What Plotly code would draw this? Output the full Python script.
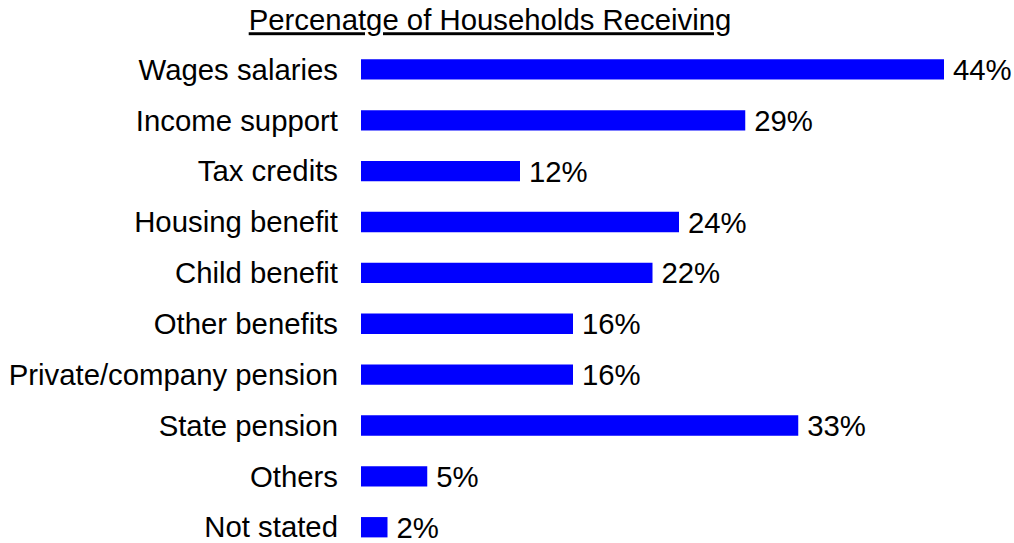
import plotly.graph_objects as go

categories = ["Wages salaries", "Income support", "Tax credits", "Housing benefit",
              "Child benefit", "Other benefits", "Private/company pension",
              "State pension", "Others", "Not stated"]
values = [44, 29, 12, 24, 22, 16, 16, 33, 5, 2]
title_text = "Percenatge of Households Receiving"

FONT = "Liberation Sans, Arial, sans-serif"
FS = 29.33
W, H = 1014, 543

fig = go.Figure(go.Bar(
    x=values, y=categories, orientation="h",
    marker=dict(color="#0000FF", line=dict(width=0)),
    width=0.4,
    text=[f"\u2009{v}%" for v in values],
    textposition="outside",
    constraintext="none",
    textfont=dict(family=FONT, size=FS, color="black"),
    cliponaxis=False,
))

fig.update_layout(
    width=W, height=H,
    margin=dict(l=361, r=17, t=44, b=0),
    paper_bgcolor="white", plot_bgcolor="white",
    showlegend=False,
    title=dict(text=f"<u>{title_text}</u>", xref="container", yref="container",
               x=490/W, xanchor="center", y=1-20/H, yanchor="middle",
               font=dict(family=FONT, size=FS, color="black")),
    font=dict(family=FONT, size=FS, color="black"),
    xaxis=dict(range=[0, 48], visible=False, showgrid=False, zeroline=False),
    yaxis=dict(range=[9.31, -0.5], showgrid=False, zeroline=False, showline=False,
               ticks="", ticklabelstandoff=22,
               tickfont=dict(family=FONT, size=FS, color="black")),
)

fig.write_html(
    "out.html",
    config={"displayModeBar": False},
    post_script="document.body.style.margin='0';document.body.style.overflow='hidden';",
)
